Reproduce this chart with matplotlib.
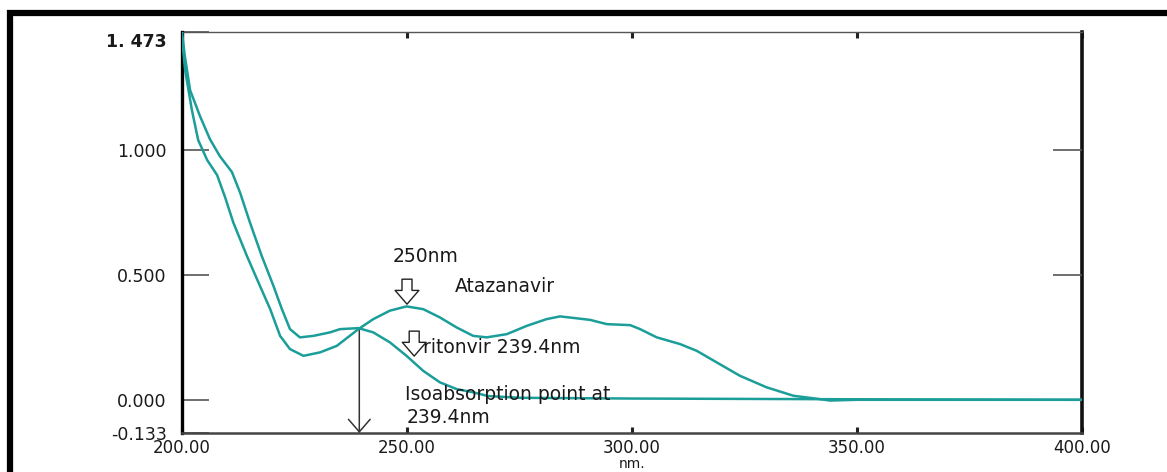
import matplotlib
matplotlib.use("Agg")
import matplotlib.pyplot as plt
from matplotlib.patches import Rectangle

# ---------------- data ----------------
wl_atz = [200.0, 200.7, 202.2, 203.6, 205.6, 207.8, 209.6, 211.4, 214.4, 217.3,
          219.6, 221.8, 224.0, 227.0, 230.7, 234.4, 239.2, 242.5, 246.2, 249.9,
          253.6, 257.3, 261.0, 264.7, 267.7, 272.2, 276.6, 281.0, 284.0, 286.9,
          290.7, 294.4, 299.6, 301.8, 305.5, 310.7, 314.4, 318.8, 324.0, 329.9,
          335.9, 340.3, 344.0, 350.0, 400.0]
abs_atz = [1.45, 1.32, 1.16, 1.04, 0.96, 0.90, 0.81, 0.71, 0.577, 0.457,
           0.363, 0.256, 0.203, 0.176, 0.190, 0.216, 0.283, 0.323, 0.357, 0.374,
           0.363, 0.330, 0.290, 0.256, 0.250, 0.263, 0.296, 0.323, 0.334, 0.328,
           0.320, 0.303, 0.299, 0.283, 0.250, 0.223, 0.196, 0.150, 0.096, 0.050,
           0.016, 0.006, -0.003, 0.0, 0.0]

wl_rtv = [200.0, 200.6, 201.8, 204.0, 206.2, 208.4, 211.1, 212.9, 215.1, 217.7,
          220.3, 222.2, 224.0, 226.2, 229.2, 232.9, 235.1, 239.2, 242.5, 246.2,
          249.9, 253.6, 257.3, 261.0, 264.7, 268.0, 275.0, 300.0, 350.0, 400.0]
abs_rtv = [1.47, 1.38, 1.24, 1.136, 1.044, 0.976, 0.912, 0.83, 0.71, 0.577,
           0.457, 0.363, 0.283, 0.250, 0.256, 0.270, 0.283, 0.287, 0.270, 0.230,
           0.176, 0.116, 0.070, 0.043, 0.030, 0.015, 0.008, 0.005, 0.002, 0.0]

iso_wl, iso_abs = 239.4, 0.287

x_ticks = [200, 250, 300, 350, 400]
x_ticklabels = ["200.00", "250.00", "300.00", "350.00", "400.00"]
y_ticks = [-0.133, 0.0, 0.5, 1.0, 1.473]
y_ticklabels = ["-0.133", "0.000", "0.500", "1.000", "1. 473"]
x_min, x_max = 200, 400
y_min, y_max = -0.133, 1.473

# ---------------- figure ----------------
W, H = 1167, 472
fig = plt.figure(figsize=(W / 100, H / 100), dpi=100)
plt.rcParams['font.family'] = ['DejaVu Sans']

ax = fig.add_axes([182 / W, 1 - 433 / H, (1082 - 182) / W, (433 - 32) / H])
ax.set_xlim(x_min, x_max)
ax.set_ylim(y_min, y_max)

teal = '#1b9e99'
ax.plot(wl_atz, abs_atz, color=teal, lw=1.8, zorder=4, solid_joinstyle='round')
ax.plot(wl_rtv, abs_rtv, color=teal, lw=1.8, zorder=4, solid_joinstyle='round')

# spines
ax.spines['left'].set_linewidth(2.4)
ax.spines['left'].set_color('black')
ax.spines['right'].set_linewidth(2.6)
ax.spines['right'].set_color('#111111')
ax.spines['top'].set_linewidth(1.0)
ax.spines['top'].set_color('#555555')
ax.spines['bottom'].set_linewidth(1.8)
ax.spines['bottom'].set_color('#444444')

txtcol = '#1a1a1a'
ax.set_xticks(x_ticks)
ax.set_xticklabels(x_ticklabels, fontsize=12, color=txtcol)
ax.tick_params(axis='x', direction='in', top=True, bottom=True, length=4.5,
               width=2.2, color='#222222', pad=4)
ax.set_yticks(y_ticks)
# top label drawn separately (it sits a little below the axis top in the reference)
ax.set_yticklabels(y_ticklabels[:-1] + [""], fontsize=12.5, color=txtcol)
ax.tick_params(axis='y', direction='in', left=True, right=False, length=19.5,
               width=1.2, color='#555555', pad=11)
ax.annotate(y_ticklabels[-1], xy=(0, y_ticks[-1]), xycoords=('axes fraction', 'data'),
            xytext=(-11, -7), textcoords='offset points', ha='right', va='center',
            fontsize=12.5, fontweight='bold', color=txtcol, annotation_clip=False)
ax.set_xlabel('nm.', fontsize=10, color=txtcol, labelpad=0.5)

# right-side ticks (only 0.5 and 1.0)
ax2 = ax.twinx()
ax2.set_ylim(y_min, y_max)
ax2.set_yticks([0.5, 1.0])
ax2.set_yticklabels([])
ax2.tick_params(axis='y', direction='in', length=21, width=1.2, color='#555555')
for s in ax2.spines.values():
    s.set_visible(False)

# isoabsorption arrow
ax.annotate('', xy=(iso_wl, y_min), xytext=(iso_wl, iso_abs),
            arrowprops=dict(arrowstyle='->,head_length=0.75,head_width=0.65',
                            mutation_scale=12, color='#333333', lw=1.1,
                            shrinkA=0, shrinkB=0), zorder=3)

# hollow arrows
hollow = dict(arrowstyle='simple,head_length=0.55,head_width=0.95,tail_width=0.4',
              mutation_scale=18, fc='white', ec='#222222', lw=1.0,
              shrinkA=0, shrinkB=0)
ax.annotate('', xy=(250.0, 0.383), xytext=(250.0, 0.483), arrowprops=hollow, zorder=6)
ax.annotate('', xy=(251.6, 0.175), xytext=(251.6, 0.275), arrowprops=hollow, zorder=6)

# text annotations
tk = dict(fontsize=13.5, color=txtcol, va='center', ha='left', zorder=5)
ax.text(246.9, 0.575, '250nm', **tk)
ax.text(260.7, 0.455, 'Atazanavir', **tk)
ax.text(253.6, 0.211, 'ritonvir 239.4nm', **tk)
ax.text(249.6, 0.023, 'Isoabsorption point at', **tk)
ax.text(250.0, -0.069, '239.4nm', **tk)

# outer black frame (top and left edges visible)
fig.add_artist(Rectangle((10 / W, -0.2), 1.5, 1 - 13 / H + 0.2,
                         transform=fig.transFigure, fill=False,
                         edgecolor='black', lw=4.5, clip_on=False))

fig.savefig('out.png', dpi=100)
